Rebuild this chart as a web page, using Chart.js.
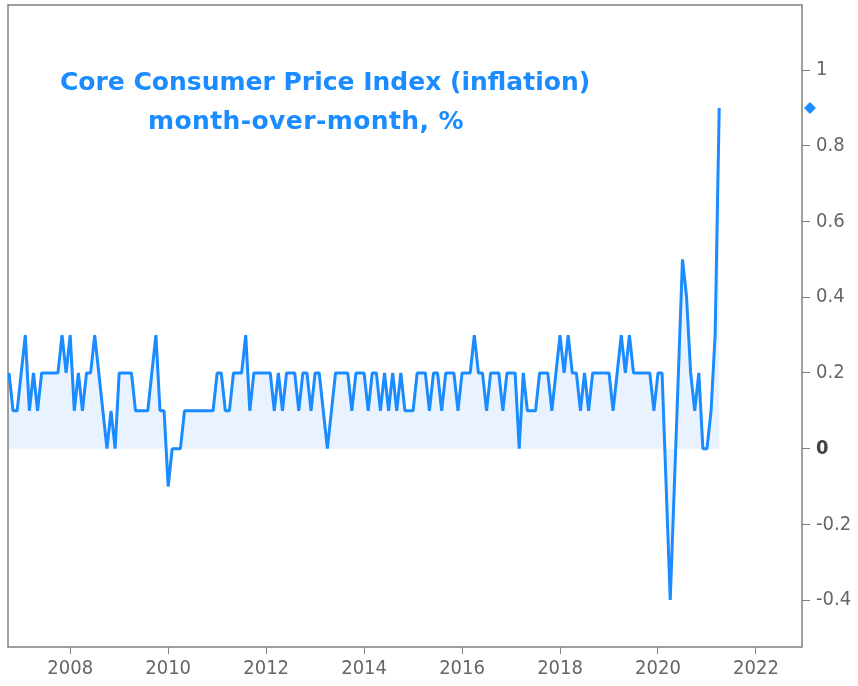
<!DOCTYPE html>
<html>
<head>
<meta charset="utf-8">
<script src="https://cdn.jsdelivr.net/npm/chart.js@4.4.0/dist/chart.umd.min.js"></script>
<style>
    html, body { margin: 0; padding: 0; background: #fff; }
    #wrap { position: relative; width: 858px; height: 686px; }
    .title {
        position: absolute;
        font-family: 'DejaVu Sans', sans-serif;
        font-weight: bold;
        font-size: 25px;
        color: #1a8cff;
        white-space: nowrap;
        line-height: 1;
    }
</style>
</head>
<body>
<div id="wrap">
    <canvas id="cpi-chart" width="858" height="686"></canvas>
    <div class="title" style="left:60px; top:69px;">Core Consumer Price Index (inflation)</div>
    <div class="title" style="left:148px; top:108px; letter-spacing:0.4px;">month-over-month, %</div>
</div>
<script>
// monthly core CPI, % change m/m, series starts Oct 2006
const startYear = 2006
const startMonth = 10

const cpi2006 = [0.2, 0.1, 0.1] // Oct-Dec
const cpi2007 = [0.2, 0.3, 0.1, 0.2, 0.1, 0.2, 0.2, 0.2, 0.2, 0.2, 0.3, 0.2]
const cpi2008 = [0.3, 0.1, 0.2, 0.1, 0.2, 0.2, 0.3, 0.2, 0.1, 0.0, 0.1, 0.0]
const cpi2009 = [0.2, 0.2, 0.2, 0.2, 0.1, 0.1, 0.1, 0.1, 0.2, 0.3, 0.1, 0.1]
const cpi2010 = [-0.1, 0.0, 0.0, 0.0, 0.1, 0.1, 0.1, 0.1, 0.1, 0.1, 0.1, 0.1]
const cpi2011 = [0.2, 0.2, 0.1, 0.1, 0.2, 0.2, 0.2, 0.3, 0.1, 0.2, 0.2, 0.2]
const cpi2012 = [0.2, 0.2, 0.1, 0.2, 0.1, 0.2, 0.2, 0.2, 0.1, 0.2, 0.2, 0.1]
const cpi2013 = [0.2, 0.2, 0.1, 0.0, 0.1, 0.2, 0.2, 0.2, 0.2, 0.1, 0.2, 0.2]
const cpi2014 = [0.2, 0.1, 0.2, 0.2, 0.1, 0.2, 0.1, 0.2, 0.1, 0.2, 0.1, 0.1]
const cpi2015 = [0.1, 0.2, 0.2, 0.2, 0.1, 0.2, 0.2, 0.1, 0.2, 0.2, 0.2, 0.1]
const cpi2016 = [0.2, 0.2, 0.2, 0.3, 0.2, 0.2, 0.1, 0.2, 0.2, 0.2, 0.1, 0.2]
const cpi2017 = [0.2, 0.2, 0.0, 0.2, 0.1, 0.1, 0.1, 0.2, 0.2, 0.2, 0.1, 0.2]
const cpi2018 = [0.3, 0.2, 0.3, 0.2, 0.2, 0.1, 0.2, 0.1, 0.2, 0.2, 0.2, 0.2]
const cpi2019 = [0.2, 0.1, 0.2, 0.3, 0.2, 0.3, 0.2, 0.2, 0.2, 0.2, 0.2, 0.1]
const cpi2020 = [0.2, 0.2, -0.1, -0.4, -0.1, 0.2, 0.5, 0.4, 0.2, 0.1, 0.2, 0.0]
const cpi2021 = [0.0, 0.1, 0.3, 0.9] // Jan-Apr

const xTicks = [2008, 2010, 2012, 2014, 2016, 2018, 2020, 2022]
const yTicks = [-0.4, -0.2, 0, 0.2, 0.4, 0.6, 0.8, 1]

const cpiValues = [].concat(cpi2006, cpi2007, cpi2008, cpi2009, cpi2010, cpi2011,
    cpi2012, cpi2013, cpi2014, cpi2015, cpi2016, cpi2017, cpi2018, cpi2019, cpi2020, cpi2021)

// decimal year for each month
const cpiPoints = cpiValues.map((v, i) => ({
    x: startYear + (startMonth - 1 + i) / 12,
    y: v
}))

const blue = '#1a8cff'
const axisGrey = '#808080'
const fontFamily = "'DejaVu Sans Condensed', 'DejaVu Sans', sans-serif"

// grey box round the plot area
const frame = {
    id: 'frame',
    beforeDatasetsDraw(chart) {
        const { ctx, chartArea: a } = chart
        ctx.save()
        ctx.strokeStyle = axisGrey
        ctx.lineWidth = 1.5
        ctx.strokeRect(a.left, a.top, a.right - a.left, a.bottom - a.top)
        ctx.restore()
    }
}

// diamond on the right axis at the latest value
const lastMarker = {
    id: 'lastMarker',
    afterDatasetsDraw(chart) {
        const { ctx, chartArea: a, scales } = chart
        const last = cpiValues[cpiValues.length - 1]
        const y = scales.y.getPixelForValue(last)
        const x = a.right + 8
        const r = 6
        ctx.save()
        ctx.fillStyle = blue
        ctx.beginPath()
        ctx.moveTo(x, y - r)
        ctx.lineTo(x + r, y)
        ctx.lineTo(x, y + r)
        ctx.lineTo(x - r, y)
        ctx.closePath()
        ctx.fill()
        ctx.restore()
    }
}

new Chart(document.getElementById('cpi-chart'), {
    type: 'line',
    data: {
        datasets: [{
            label: 'Core CPI m/m',
            data: cpiPoints,
            borderColor: blue,
            borderWidth: 3,
            borderJoinStyle: 'bevel', // no miter spikes on the sharp peaks
            backgroundColor: 'rgba(26, 140, 255, 0.1)',
            fill: 'origin',
            tension: 0,
            pointRadius: 0
        }]
    },
    options: {
        responsive: false,
        animation: false,
        devicePixelRatio: 1,
        layout: { padding: { left: 8, top: 5, right: 0, bottom: 0 } },
        plugins: {
            legend: { display: false },
            tooltip: { enabled: false },
            title: { display: false }
        },
        scales: {
            x: {
                type: 'linear',
                min: 2006.73,
                max: 2022.94,
                afterBuildTicks: (scale) => { scale.ticks = xTicks.map(v => ({ value: v })) },
                afterFit: (scale) => { scale.height = 39 },
                border: { display: false },
                grid: { drawOnChartArea: false, drawTicks: true, tickLength: 7, color: axisGrey },
                ticks: {
                    color: '#666',
                    padding: 3,
                    maxRotation: 0,
                    font: { family: fontFamily, size: 20 },
                    callback: (v) => String(v)
                }
            },
            y: {
                position: 'right',
                min: -0.524,
                max: 1.172,
                afterBuildTicks: (scale) => { scale.ticks = yTicks.map(v => ({ value: v })) },
                afterFit: (scale) => {
                    scale.width = 56
                    // labels near the ends should not push the plot area in
                    scale.paddingTop = 0
                    scale.paddingBottom = 0
                },
                border: { display: false },
                grid: { drawOnChartArea: false, drawTicks: true, tickLength: 8, color: axisGrey },
                ticks: {
                    padding: 6,
                    color: (c) => c.tick && c.tick.value === 0 ? '#444' : '#666',
                    font: (c) => ({
                        family: fontFamily,
                        size: 20,
                        weight: c.tick && c.tick.value === 0 ? 'bold' : 'normal'
                    }),
                    callback: (v) => String(v)
                }
            }
        }
    },
    plugins: [frame, lastMarker]
})
</script>
</body>
</html>
